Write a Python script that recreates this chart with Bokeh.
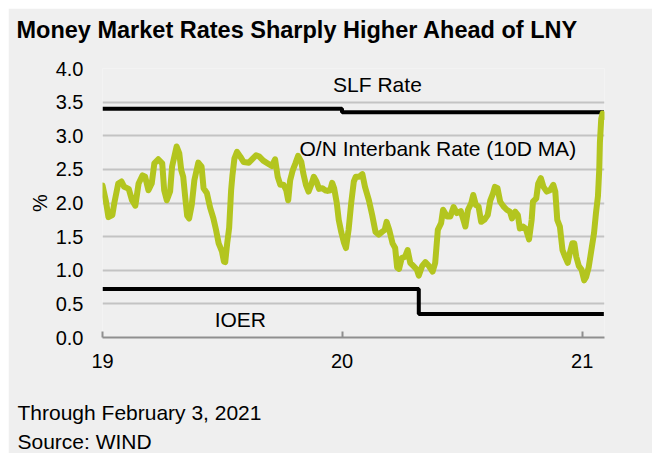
import pandas as pd
from bokeh.plotting import figure
from bokeh.models import (Range1d, FixedTicker, DatetimeTickFormatter, Label,
                          Title, NumeralTickFormatter)
from bokeh.embed import file_html
from bokeh.resources import INLINE

# ---------------- data ----------------
start_date = "2019-01-01"
# O/N interbank rate, 10-day moving average (days since 2019-01-01, %)
on_days = [0, 5, 9, 15, 18, 24, 29, 33, 40, 45, 50, 55, 61, 65, 70, 75, 79, 85, 91, 94,
           98, 103, 106, 113, 117, 120, 123, 126, 129, 132, 136, 140, 146, 151, 154, 159,
           164, 169, 173, 177, 180, 182, 185, 187, 190, 193, 196, 198, 201, 205, 210, 215,
           223, 229, 234, 239, 245, 253, 258, 263, 267, 271, 276, 280, 283, 286, 290, 294,
           298, 303, 306, 310, 314, 318, 322, 326, 330, 335, 339, 343, 347, 350, 353, 357,
           360, 364, 368, 371, 375, 379, 383, 386, 391, 396, 400, 406, 411, 416, 421, 426,
           430, 433, 437, 442, 446, 449, 452, 456, 461, 465, 469, 474, 479, 482, 487, 492,
           497, 503, 507, 511, 516, 519, 525, 530, 535, 540, 546, 550, 553, 557, 562, 565,
           569, 573, 577, 582, 587, 591, 595, 598, 602, 606, 611, 616, 621, 624, 629, 633,
           636, 641, 645, 650, 654, 656, 661, 664, 668, 672, 677, 682, 687, 690, 693, 697,
           701, 705, 709, 712, 716, 719, 722, 726, 730, 734, 737, 741, 745, 749, 752, 755,
           757, 758, 760, 762, 764]
on_rate = [2.26, 2.04, 1.79, 1.82, 2.00, 2.29, 2.32, 2.24, 2.21, 2.04, 1.96, 2.29, 2.41, 2.39, 2.19, 2.29, 2.59, 2.65, 2.59, 2.19,
           2.04, 2.17, 2.54, 2.84, 2.74, 2.49, 2.39, 2.09, 1.81, 1.77, 1.97, 2.34, 2.60, 2.54, 2.22, 2.15,
           1.93, 1.77, 1.60, 1.40, 1.33, 1.28, 1.13, 1.12, 1.40, 1.63, 2.19, 2.41, 2.66, 2.76, 2.69, 2.61,
           2.60, 2.66, 2.71, 2.69, 2.63, 2.58, 2.55, 2.65, 2.39, 2.27, 2.27, 2.19, 2.04, 2.34, 2.49, 2.59,
           2.70, 2.61, 2.44, 2.27, 2.17, 2.27, 2.39, 2.32, 2.21, 2.22, 2.19, 2.18, 2.19, 2.30, 2.22, 2.00,
           1.75, 1.56, 1.41, 1.33, 1.60, 2.00, 2.32, 2.39, 2.39, 2.43, 2.24, 2.04, 1.82, 1.57, 1.53, 1.57,
           1.60, 1.72, 1.60, 1.40, 1.33, 1.04, 1.02, 1.18, 1.20, 1.30, 1.11, 1.06, 1.01, 0.92, 1.06, 1.12,
           1.07, 0.98, 1.11, 1.60, 1.70, 1.90, 1.80, 1.80, 1.94, 1.85, 1.88, 1.75, 1.65, 1.90, 2.00, 2.12,
           1.97, 1.95, 1.72, 1.75, 1.82, 2.04, 2.14, 2.24, 2.22, 2.02, 1.95, 1.90, 1.87, 1.77, 1.87, 1.82,
           1.62, 1.65, 1.62, 1.46, 1.75, 2.02, 2.07, 2.29, 2.37, 2.24, 2.17, 2.19, 2.27, 2.17, 1.75, 1.65,
           1.30, 1.20, 1.11, 1.25, 1.40, 1.40, 1.20, 1.06, 1.01, 0.85, 0.90, 1.05, 1.30, 1.55, 1.85, 2.10,
           2.50, 2.90, 3.25, 3.33, 3.28]

slf_dates = ["2019-01-01", "2020-01-01", "2021-02-03"]
slf_rate = [3.40, 3.35, 3.35]

ioer_dates = ["2019-01-01", "2020-04-27", "2021-02-03"]
ioer_rate = [0.72, 0.35, 0.35]

x_tick_dates = ["2019-01-01", "2020-01-01", "2021-01-01"]
y_ticks = [0.0, 0.5, 1.0, 1.5, 2.0, 2.5, 3.0, 3.5, 4.0]

title_text = "Money Market Rates Sharply Higher Ahead of LNY"
note_lines = ["Through February 3, 2021", "Source: WIND"]
y_unit = "%"
label_slf = "SLF Rate"
label_on = "O/N Interbank Rate (10D MA)"
label_ioer = "IOER"

# ---------------- build ----------------
FONT = "Liberation Sans"
BG = "#efefef"
GREEN = "#b3c51f"

on_x = pd.Timestamp(start_date) + pd.to_timedelta(on_days, unit="D")
slf_x = pd.to_datetime(slf_dates)
ioer_x = pd.to_datetime(ioer_dates)

p = figure(width=644, height=445, x_axis_type="datetime",
           output_backend="svg", toolbar_location=None,
           x_range=Range1d(pd.Timestamp("2019-01-01"), pd.Timestamp("2021-02-04")),
           y_range=Range1d(0, 4),
           min_border_left=94, min_border_right=48, min_border_top=60, min_border_bottom=115)
p.margin = (8, 0, 0, 8)
p.background_fill_color = BG
p.border_fill_color = BG
p.outline_line_color = None

# title (a blank second line lifts it away from the plot frame)
p.title.text = title_text + "\n "
p.title.text_font = FONT
p.title.text_font_size = "23.5px"
p.title.text_font_style = "bold"
p.title.text_color = "#000000"
p.title.text_line_height = 1.0
p.title.align = "left"
p.title.offset = -86
p.title.standoff = 0

# grid
p.xgrid.grid_line_color = None
p.ygrid.grid_line_color = "#c3c3c3"
p.ygrid.grid_line_width = 2
p.ygrid.ticker = FixedTicker(ticks=y_ticks)

# axes
xa = p.xaxis[0]
xa.ticker = FixedTicker(ticks=[pd.Timestamp(d).value / 1e6 for d in x_tick_dates])
xa.formatter = DatetimeTickFormatter(years="%y", months="%y", days="%y", hours="%y",
                                     hourmin="%y", minutes="%y", minsec="%y",
                                     seconds="%y", milliseconds="%y", microseconds="%y")
xa.axis_line_color = "#8f8f8f"
xa.axis_line_width = 2
xa.major_tick_line_color = "#8f8f8f"
xa.major_tick_line_width = 2
xa.major_tick_in = 6
xa.major_tick_out = 0
xa.minor_tick_line_color = None
xa.major_label_text_font = FONT
xa.major_label_text_font_size = "20px"
xa.major_label_text_color = "#000000"
xa.major_label_standoff = 16

ya = p.yaxis[0]
ya.ticker = FixedTicker(ticks=y_ticks)
ya.formatter = NumeralTickFormatter(format="0.0")
ya.axis_line_color = None
ya.major_tick_line_color = None
ya.major_tick_in = 0
ya.major_tick_out = 0
ya.minor_tick_line_color = None
ya.major_label_text_font = FONT
ya.major_label_text_font_size = "20px"
ya.major_label_text_color = "#000000"
ya.major_label_standoff = 19
ya.axis_label = y_unit
ya.axis_label_text_font = FONT
ya.axis_label_text_font_size = "20px"
ya.axis_label_text_font_style = "normal"
ya.axis_label_text_color = "#000000"
ya.axis_label_standoff = 2

# series
p.step(slf_x, slf_rate, mode="after", line_color="#000000", line_width=4)
p.step(ioer_x, ioer_rate, mode="after", line_color="#000000", line_width=4)
p.line(on_x, on_rate, line_color=GREEN, line_width=6,
       line_join="round", line_cap="round")

# series annotations (data coordinates)
for txt, d, v in [(label_slf, "2020-02-24", 3.76),
                  (label_on, "2020-05-26", 2.81),
                  (label_ioer, "2019-07-30", 0.27)]:
    p.add_layout(Label(x=pd.Timestamp(d), y=v, text=txt, text_font=FONT,
                       text_font_size="21px", text_color="#000000",
                       text_align="center", text_baseline="middle"))

# footnotes (a blank first line keeps them clear of the axis labels)
p.add_layout(Title(text="\n".join([" "] + note_lines), align="left", offset=-85,
                   text_font=FONT, text_font_size="21px",
                   text_font_style="normal", text_color="#000000",
                   text_line_height=1.27, standoff=0), "below")

open("out.html", "w").write(file_html(p, INLINE))
